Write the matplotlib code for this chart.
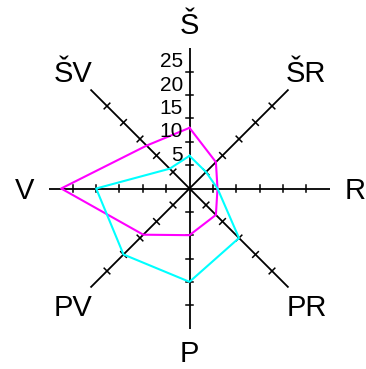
import numpy as np
import matplotlib
matplotlib.use("Agg")
import matplotlib.pyplot as plt

plt.rcParams['font.family'] = ['Liberation Sans', 'DejaVu Sans']

directions = ["Š", "ŠR", "R", "PR", "P", "PV", "V", "ŠV"]
angles_deg = [90, 45, 0, -45, -90, -135, 180, 135]
series_magenta = [13, 8, 6, 8, 10, 14, 27.5, 13]
series_cyan = [7, 5, 6, 15, 20, 20, 20, 6]
tick_values = [5, 10, 15, 20, 25]
tick_labels = ["5", "10", "15", "20", "25"]
axis_max = 30
label_radius = 35.4

W, H, DPI = 366, 369, 100
fig = plt.figure(figsize=(W / DPI, H / DPI), dpi=DPI)
ax = fig.add_axes([0, 0, 1, 1])
ax.set_axis_off()

cx, cy = 189.5, 188.5  # pixel center (from top)
ppu = 4.667            # pixels per unit
ax.set_xlim(-cx / ppu, (W - cx) / ppu)
ax.set_ylim(-(H - cy) / ppu, cy / ppu)

ang = np.deg2rad(angles_deg)
tick_half = 0.85

for a in ang:
    ux, uy = np.cos(a), np.sin(a)
    ax.plot([0, axis_max * ux], [0, axis_max * uy], color='black', lw=1.3,
            solid_capstyle='butt', zorder=1)
    px, py = -uy, ux
    for t in tick_values:
        ax.plot([t * ux - tick_half * px, t * ux + tick_half * px],
                [t * uy - tick_half * py, t * uy + tick_half * py],
                color='black', lw=1.1, zorder=1)

for vals, col in [(series_magenta, '#ff00ff'), (series_cyan, '#00ffff')]:
    v = np.array(vals, dtype=float)
    xs = v * np.cos(ang)
    ys = v * np.sin(ang)
    ax.plot(np.append(xs, xs[0]), np.append(ys, ys[0]), color=col, lw=1.5,
            zorder=2)

label_fs = 21
half_cap = 0.716 * label_fs * DPI / 72 / 2 / ppu
for name, a in zip(directions, ang):
    r = label_radius if np.sin(a) > -0.99 else label_radius - 0.4
    ax.text(r * np.cos(a), r * np.sin(a) - half_cap, name,
            ha='center', va='baseline', fontsize=label_fs)

for t, lab in zip(tick_values, tick_labels):
    ax.text(-1.4, t + 0.1, lab, ha='right', va='bottom', fontsize=15)

fig.savefig("out.png", dpi=DPI)
